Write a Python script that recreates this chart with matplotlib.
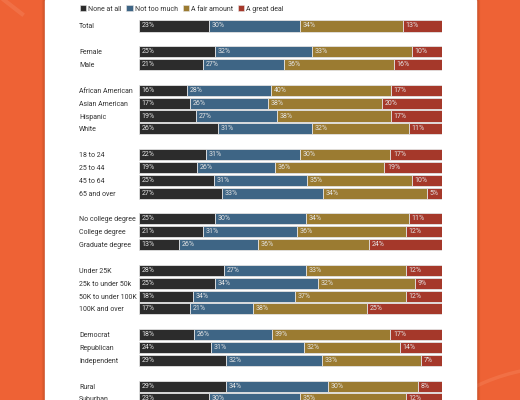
import numpy as np
import matplotlib
matplotlib.use("Agg")
import matplotlib.pyplot as plt
from matplotlib.patches import Rectangle, Arc, Patch
from matplotlib.lines import Line2D

plt.rcParams['font.family'] = ['Roboto', 'DejaVu Sans']

# Data (percent)
groups = [
    ["Total"],
    ["Female", "Male"],
    ["African American", "Asian American", "Hispanic", "White"],
    ["18 to 24", "25 to 44", "45 to 64", "65 and over"],
    ["No college degree", "College degree", "Graduate degree"],
    ["Under 25K", "25k to under 50k", "50K to under 100K", "100K and over"],
    ["Democrat", "Republican", "Independent"],
    ["Rural", "Suburban"],
]
series_names = ["None at all", "Not too much", "A fair amount", "A great deal"]
none_at_all = [23, 25, 21, 16, 17, 19, 26, 22, 19, 25, 27, 25, 21, 13,
               28, 25, 18, 17, 18, 24, 29, 29, 23]
not_too_much = [30, 32, 27, 28, 26, 27, 31, 31, 26, 31, 33, 30, 31, 26,
                27, 34, 34, 21, 26, 31, 32, 34, 30]
fair_amount = [34, 33, 36, 40, 38, 38, 32, 30, 36, 35, 34, 34, 36, 36,
               33, 32, 37, 38, 39, 32, 33, 30, 35]
great_deal = [13, 10, 16, 17, 20, 17, 11, 17, 19, 10, 5, 11, 12, 24,
              12, 9, 12, 25, 17, 14, 7, 8, 12]

colors = ["#2c2c2c", "#3e6585", "#9b7b31", "#a5382a"]
BG = "#ee6235"

# row positions: one empty row between groups
labels, ypos = [], []
row = 0
for g in groups:
    for name in g:
        labels.append(name)
        ypos.append(row)
        row += 1
    row += 1
ypos = np.array(ypos)

vals = np.array([none_at_all, not_too_much, fair_amount, great_deal], dtype=float)
shares = vals / vals.sum(axis=0)

fig = plt.figure(figsize=(5.2, 4.0), dpi=100, facecolor=BG)
# faint swirls in the orange background
fig.patches.append(Arc((560 / 520, -160 / 400), 386 / 520, 386 / 400,
                       transform=fig.transFigure, color="#f3774c",
                       lw=2.5, alpha=0.7, zorder=-5))
fig.lines.append(Line2D([4 / 520, 22 / 520], [1, 1 - 14 / 400],
                        transform=fig.transFigure, color="#f27a52",
                        lw=3, alpha=0.6, zorder=-5))
# white panel with soft shadow
for off, a in [(3, 0.05), (2, 0.07), (1, 0.1)]:
    fig.patches.append(Rectangle(((45 - off) / 520, 0), (431 + 2 * off) / 520, 1,
                                 transform=fig.transFigure, color="#7a2a10",
                                 alpha=a, zorder=-4))
fig.patches.append(Rectangle((45 / 520, 0), 431 / 520, 1, transform=fig.transFigure,
                             color="white", zorder=-3))

ax = fig.add_axes([139 / 520, 0, 303 / 520, 1])
ax.set_facecolor("none")
left = np.zeros(len(labels))
for k in range(4):
    w = shares[k]
    ax.barh(ypos, w, left=left, height=0.86, color=colors[k],
            edgecolor="#e2e2e2", linewidth=0.6)
    for y, l, v in zip(ypos, left, vals[k]):
        ax.text(l + 0.009, y, f"{int(v)}%", va="center", ha="left",
                fontsize=5.0, color="#e4e4e4")
    left += w

ax.set_xlim(0, 1)
ax.set_ylim(29.08, -2.02)
ax.set_xticks([])
ax.set_yticks(ypos)
ax.set_yticklabels(labels, fontsize=5.0, color="#333333", ha="left")
ax.tick_params(axis="y", length=0, pad=43.2)
for s in ax.spines.values():
    s.set_visible(False)

handles = [Patch(facecolor=c, edgecolor="#e6e6e6", linewidth=0.4) for c in colors]
fig.legend(handles, series_names, loc="center left",
           bbox_to_anchor=(77 / 520, 1 - 9 / 400), ncol=4, frameon=False,
           fontsize=5.0, handlelength=0.9, handleheight=0.9, handletextpad=0.3,
           columnspacing=0.7, borderaxespad=0, labelcolor="#333333")

fig.savefig("out.png", dpi=100, facecolor=BG)
